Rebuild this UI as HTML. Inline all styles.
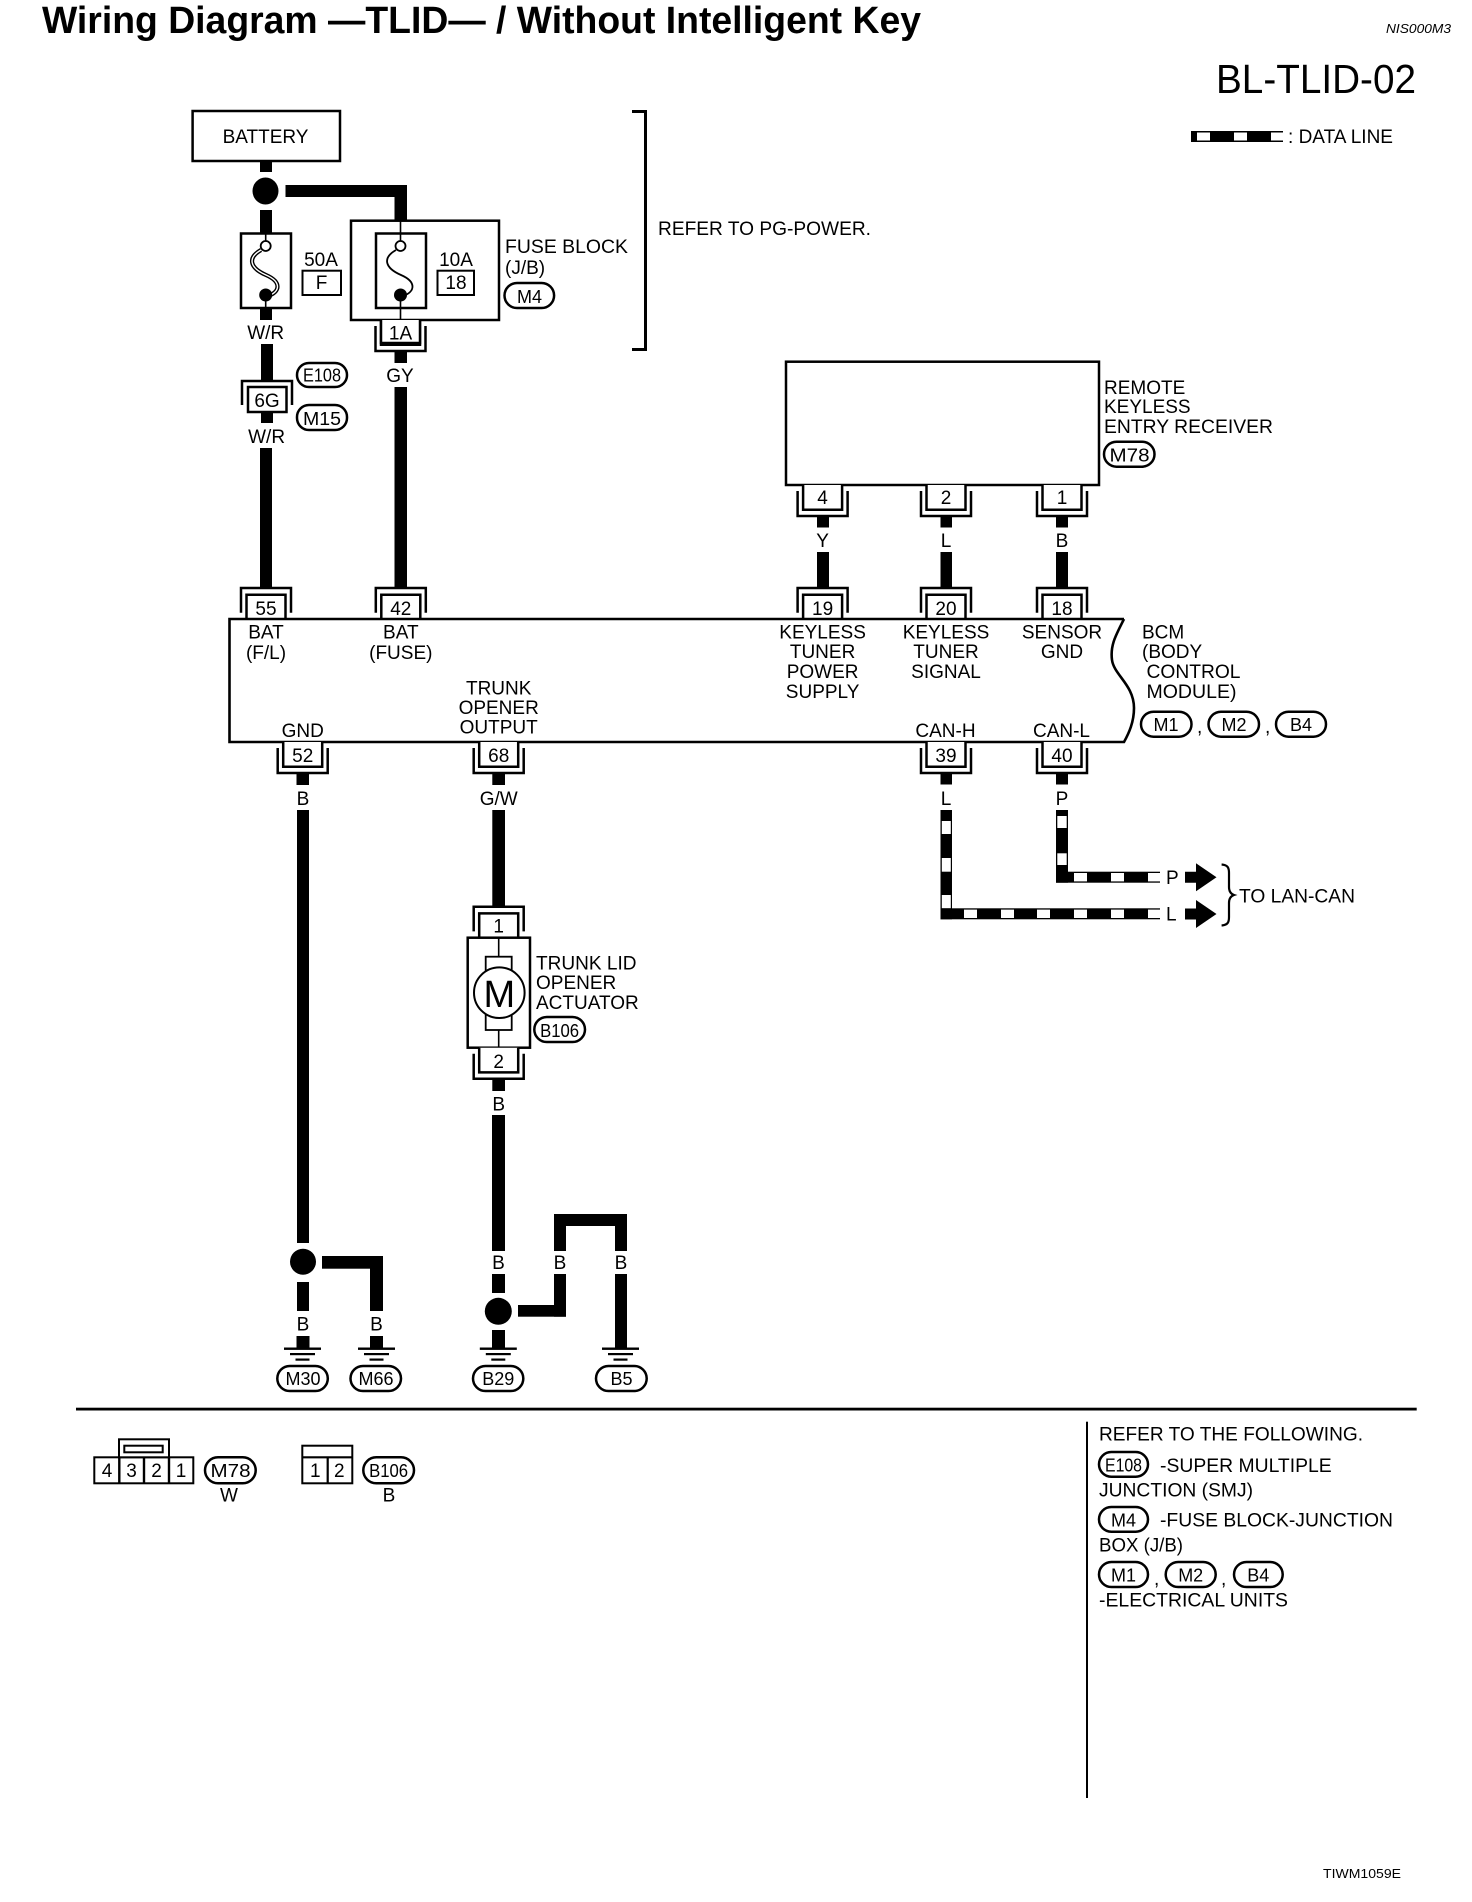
<!DOCTYPE html>
<html>
<head>
<meta charset="utf-8">
<title>Wiring Diagram TLID</title>
<style>
html,body{margin:0;padding:0;background:#fff;width:1472px;height:1902px;overflow:hidden}
svg{display:block}
text{font-family:"Liberation Sans",sans-serif;font-size:19px;fill:#000}
.m{text-anchor:middle}
.p{font-size:18px;text-anchor:middle}
.n{font-size:19px;text-anchor:middle}
.box{fill:#fff;stroke:#000;stroke-width:2.5}
.pill{fill:#fff;stroke:#000;stroke-width:2.5}
.thin{fill:none;stroke:#000;stroke-width:1.6}
.br{fill:none;stroke:#000;stroke-width:2.5}
.gl{fill:#000}
</style>
</head>
<body>
<svg xmlns="http://www.w3.org/2000/svg" width="1472" height="1902" viewBox="0 0 1472 1902">
<defs>
<g id="ct"><path class="br" d="M-25 24.7V0H25V24.7"/><path class="br" d="M-19.5 31V6.7H19.5V31" style="fill:#fff"/></g>
<g id="cb"><path class="br" d="M-19.5 0V24.7H19.5V0" style="fill:#fff"/><path class="br" d="M-25 6V31H25V6"/></g>
<g id="gnd"><rect x="-18.5" y="0" width="37" height="2.4"/><rect x="-12.5" y="5.5" width="25" height="2.2"/><rect x="-7" y="11" width="14" height="2.2"/></g>
</defs>
<rect width="1472" height="1902" fill="#fff"/>

<!-- header -->
<text x="42" y="33" style="font-size:38px;font-weight:bold" textLength="879" lengthAdjust="spacingAndGlyphs">Wiring Diagram —TLID— / Without Intelligent Key</text>
<text x="1386" y="33" style="font-size:12.5px;font-style:italic" textLength="65" lengthAdjust="spacingAndGlyphs">NIS000M3</text>
<text x="1216" y="93" style="font-size:41px" textLength="200" lengthAdjust="spacingAndGlyphs">BL-TLID-02</text>

<!-- legend -->
<rect x="1191" y="131" width="92" height="11"/>
<rect x="1197" y="132.5" width="13" height="8" fill="#fff"/>
<rect x="1234" y="132.5" width="13" height="8" fill="#fff"/>
<rect x="1271" y="132.5" width="12" height="8" fill="#fff"/>
<text x="1288" y="143" textLength="105" lengthAdjust="spacingAndGlyphs">: DATA LINE</text>

<!-- battery -->
<rect class="box" x="192.6" y="111" width="147.4" height="50"/>
<text class="m" x="265.5" y="143">BATTERY</text>
<rect x="260" y="161" width="12" height="11"/>
<ellipse cx="265.5" cy="191" rx="13" ry="13.5"/>
<rect x="260" y="210" width="12" height="24"/>
<rect x="285.5" y="185" width="121.5" height="12"/>
<rect x="394.5" y="185" width="12.5" height="36"/>

<!-- bracket -->
<path d="M632 111.5H645.5V349.5H632" fill="none" stroke="#000" stroke-width="3"/>
<text x="658" y="235" textLength="213" lengthAdjust="spacingAndGlyphs">REFER TO PG-POWER.</text>

<!-- fuse 1 -->
<rect class="box" x="241" y="233.5" width="50" height="74.5"/>
<path class="thin" d="M265.7 233.5V241M265.7 301V308"/>
<path d="M261 250C247 258 250 268 266 275C282 282 280 292 268 296" fill="none" stroke="#000" stroke-width="4.2"/>
<path d="M261 250C247 258 250 268 266 275C282 282 280 292 268 296" fill="none" stroke="#fff" stroke-width="1.4"/>
<circle cx="265.7" cy="246" r="5" fill="#fff" stroke="#000" stroke-width="1.8"/>
<circle cx="265.7" cy="295" r="6.5"/>
<rect x="260" y="308" width="12" height="12"/>
<text class="m" x="265.7" y="339">W/R</text>
<rect x="261" y="344" width="12" height="37"/>

<!-- fuse block -->
<rect class="box" x="351" y="220.7" width="148" height="99.3"/>
<rect class="box" x="376" y="233.5" width="50" height="74.5"/>
<path class="thin" d="M400.5 220.7V241M400.5 301V320"/>
<path d="M396 250C382 258 385 268 401 275C417 282 415 292 403 296" fill="none" stroke="#000" stroke-width="1.8"/>
<circle cx="400.5" cy="246" r="5" fill="#fff" stroke="#000" stroke-width="1.8"/>
<circle cx="400.5" cy="295" r="6.5"/>

<text class="m" x="321" y="266">50A</text>
<rect class="box" x="302.5" y="270.7" width="38.5" height="24.3" style="stroke-width:2"/>
<text class="m" x="321.5" y="289">F</text>
<text class="m" x="456" y="266">10A</text>
<rect class="box" x="437.5" y="270.7" width="36.5" height="24.3" style="stroke-width:2"/>
<text class="m" x="456" y="289">18</text>
<text x="505" y="253" textLength="123" lengthAdjust="spacingAndGlyphs">FUSE BLOCK</text>
<text x="505" y="274">(J/B)</text>
<rect class="pill" x="504.5" y="283" width="49.6" height="25" rx="12.5"/>
<text class="p" x="529.5" y="303">M4</text>

<!-- 1A -->
<use href="#cb" x="400.5" y="320"/>
<path class="br" d="M381 320V343H420V320" style="fill:#fff"/>
<text class="n" x="400.5" y="339.5">1A</text>
<rect x="394.5" y="350" width="12.5" height="13"/>
<text class="m" x="400" y="382">GY</text>
<rect x="394.5" y="387" width="12.5" height="202"/>

<!-- 6G -->
<path class="br" d="M242 405V381H292V405"/>
<rect class="box" x="248" y="387" width="38.5" height="25"/>
<text class="n" x="267" y="407">6G</text>
<rect x="261" y="412" width="12" height="11"/>
<text class="m" x="266.6" y="443">W/R</text>
<rect x="260" y="448" width="12" height="141"/>
<rect class="pill" x="297" y="363" width="50" height="24" rx="12"/>
<text class="p" x="322" y="381.7" textLength="38" lengthAdjust="spacingAndGlyphs">E108</text>
<rect class="pill" x="297" y="405" width="50" height="25" rx="12"/>
<text class="p" x="322" y="425" textLength="38" lengthAdjust="spacingAndGlyphs">M15</text>

<!-- remote keyless -->
<rect class="box" x="786" y="361.7" width="313" height="123.3"/>
<text x="1104" y="394">REMOTE</text>
<text x="1104" y="413">KEYLESS</text>
<text x="1104" y="433" textLength="169" lengthAdjust="spacingAndGlyphs">ENTRY RECEIVER</text>
<rect class="pill" x="1104" y="441.7" width="50.5" height="25" rx="12.5"/>
<text class="p" x="1129.5" y="461.7" textLength="40" lengthAdjust="spacingAndGlyphs">M78</text>

<use href="#cb" x="822.6" y="485"/><text class="n" x="822.6" y="504">4</text>
<use href="#cb" x="946" y="485"/><text class="n" x="946" y="504">2</text>
<use href="#cb" x="1062" y="485"/><text class="n" x="1062" y="504">1</text>
<rect x="817" y="516" width="12" height="11.5"/><text class="m" x="822.6" y="547">Y</text><rect x="817" y="552" width="12" height="37"/>
<rect x="940.5" y="516" width="11.5" height="11.5"/><text class="m" x="946" y="547">L</text><rect x="940.5" y="552" width="11.5" height="37"/>
<rect x="1056" y="516" width="12" height="11.5"/><text class="m" x="1062" y="547">B</text><rect x="1056" y="552" width="12" height="37"/>

<!-- BCM -->
<use href="#ct" x="266" y="588"/>
<use href="#ct" x="400.8" y="588"/>
<use href="#ct" x="822.6" y="588"/>
<use href="#ct" x="946" y="588"/>
<use href="#ct" x="1062" y="588"/>
<path d="M1124 619H229.5V742H1124C1129 733 1134 722 1134 708C1134 685 1114 675 1112 660C1110 645 1116 635 1124 619" fill="#fff" stroke="#000" stroke-width="2.6"/>
<text class="n" x="266" y="615">55</text>
<text class="n" x="400.8" y="615">42</text>
<text class="n" x="822.6" y="615">19</text>
<text class="n" x="946" y="615">20</text>
<text class="n" x="1062" y="615">18</text>

<text class="m" x="266" y="638.7">BAT</text><text class="m" x="266" y="659">(F/L)</text>
<text class="m" x="400.8" y="638.7">BAT</text><text class="m" x="400.8" y="659">(FUSE)</text>
<text class="m" x="498.7" y="694.5">TRUNK</text><text class="m" x="498.7" y="714">OPENER</text><text class="m" x="498.7" y="733.7">OUTPUT</text>
<text class="m" x="302.7" y="737">GND</text>
<text class="m" x="822.6" y="638.5">KEYLESS</text><text class="m" x="822.6" y="658">TUNER</text><text class="m" x="822.6" y="678">POWER</text><text class="m" x="822.6" y="698">SUPPLY</text>
<text class="m" x="946" y="638.5">KEYLESS</text><text class="m" x="946" y="658">TUNER</text><text class="m" x="946" y="678">SIGNAL</text>
<text class="m" x="1062" y="638.5">SENSOR</text><text class="m" x="1062" y="658">GND</text>
<text class="m" x="945.5" y="737">CAN-H</text>
<text class="m" x="1061.5" y="737">CAN-L</text>
<text x="1142" y="638.5">BCM</text><text x="1142" y="658">(BODY</text><text x="1146.5" y="678" textLength="94" lengthAdjust="spacingAndGlyphs">CONTROL</text><text x="1146.5" y="698" textLength="90" lengthAdjust="spacingAndGlyphs">MODULE)</text>
<rect class="pill" x="1141" y="711.7" width="50.5" height="25" rx="12.5"/><text class="p" x="1166" y="731">M1</text>
<text x="1197" y="733">,</text>
<rect class="pill" x="1208.5" y="711.7" width="50.5" height="25" rx="12.5"/><text class="p" x="1234" y="731">M2</text>
<text x="1265" y="733">,</text>
<rect class="pill" x="1276" y="711.7" width="50" height="25" rx="12.5"/><text class="p" x="1301" y="731">B4</text>

<!-- bottom connectors -->
<use href="#cb" x="302.7" y="742"/><text class="n" x="302.7" y="762">52</text>
<use href="#cb" x="498.7" y="742"/><text class="n" x="498.7" y="762">68</text>
<use href="#cb" x="946" y="742"/><text class="n" x="946" y="762">39</text>
<use href="#cb" x="1062" y="742"/><text class="n" x="1062" y="762">40</text>

<rect x="296.5" y="773" width="12.5" height="12"/>
<text class="m" x="303" y="805">B</text>
<rect x="297" y="810" width="12" height="433"/>
<circle cx="303" cy="1261.7" r="13"/>
<rect x="297" y="1282" width="12" height="29"/>
<text class="m" x="303" y="1330.7">B</text>
<rect x="296.5" y="1336" width="13" height="12"/>
<use href="#gnd" x="302.5" y="1347.5"/>
<rect x="322" y="1256" width="61" height="12.7"/>
<rect x="370" y="1256" width="13" height="55"/>
<text class="m" x="376.5" y="1330.7">B</text>
<rect x="370" y="1336" width="13" height="12"/>
<use href="#gnd" x="376.5" y="1347.5"/>
<rect class="pill" x="277.3" y="1366" width="50.5" height="25" rx="12.5"/><text class="p" x="303" y="1385">M30</text>
<rect class="pill" x="350.5" y="1366" width="50.5" height="25" rx="12.5"/><text class="p" x="376" y="1385">M66</text>

<!-- actuator -->
<rect x="492.3" y="773" width="12.7" height="12"/>
<text class="m" x="498.7" y="805">G/W</text>
<rect x="492.3" y="810" width="12.7" height="97"/>
<use href="#ct" x="498.7" y="906.7"/>
<rect class="box" x="467.7" y="937.7" width="62.3" height="110"/>
<text class="n" x="498.7" y="932.7">1</text>
<path class="thin" d="M498.7 937.7V957M498.7 1030V1047.7"/>
<rect x="485.7" y="956.7" width="26" height="73.3" fill="#fff" stroke="#000" stroke-width="1.8"/>
<circle cx="499.3" cy="992.7" r="25.3" fill="#fff" stroke="#000" stroke-width="2"/>
<text class="m" x="499.3" y="1007" style="font-size:38px">M</text>
<text x="536" y="969.3" textLength="100.5" lengthAdjust="spacingAndGlyphs">TRUNK LID</text>
<text x="536" y="989">OPENER</text>
<text x="536" y="1009">ACTUATOR</text>
<rect class="pill" x="534.3" y="1017" width="50.7" height="25" rx="12.5"/>
<text class="p" x="559.6" y="1037" textLength="39" lengthAdjust="spacingAndGlyphs">B106</text>
<use href="#cb" x="498.7" y="1047.7"/>
<text class="n" x="498.7" y="1068">2</text>
<rect x="492.3" y="1079" width="12.7" height="12"/>
<text class="m" x="498.7" y="1110.5">B</text>
<rect x="492" y="1115" width="13" height="136"/>
<text class="m" x="498.5" y="1269">B</text>
<rect x="492" y="1274" width="13" height="19"/>
<circle cx="498.3" cy="1311.3" r="13.5"/>
<rect x="492" y="1330" width="13" height="18"/>
<use href="#gnd" x="498.3" y="1347.5"/>
<rect x="518" y="1305" width="48" height="11.7"/>
<rect x="554" y="1274" width="12" height="42.7"/>
<text class="m" x="560" y="1269">B</text>
<rect x="554" y="1214" width="12" height="37"/>
<rect x="554" y="1214" width="73" height="12"/>
<rect x="615" y="1214" width="12" height="37"/>
<text class="m" x="621" y="1269">B</text>
<rect x="615" y="1274" width="12" height="74"/>
<use href="#gnd" x="620.5" y="1347.5"/>
<rect class="pill" x="473" y="1366" width="50.3" height="25" rx="12.5"/><text class="p" x="498.3" y="1385">B29</text>
<rect class="pill" x="596" y="1366" width="50.7" height="25" rx="12.5"/><text class="p" x="621.5" y="1385">B5</text>

<!-- CAN data lines -->
<rect x="940.5" y="773" width="11.5" height="11.5"/>
<text class="m" x="946" y="805">L</text>
<rect x="1056" y="773" width="12" height="11.5"/>
<text class="m" x="1062" y="805">P</text>

<rect x="940.5" y="810" width="11.5" height="109.3"/>
<rect x="941.8" y="821" width="9" height="13" fill="#fff"/>
<rect x="941.8" y="858" width="9" height="13.7" fill="#fff"/>
<rect x="941.8" y="895" width="9" height="13.3" fill="#fff"/>
<rect x="940.5" y="908.3" width="219.5" height="11"/>
<g fill="#fff">
<rect x="964" y="909.6" width="13" height="8.4"/><rect x="1001" y="909.6" width="13" height="8.4"/><rect x="1037" y="909.6" width="13" height="8.4"/><rect x="1074" y="909.6" width="13" height="8.4"/><rect x="1111" y="909.6" width="13" height="8.4"/><rect x="1148" y="909.6" width="12" height="8.4"/>
</g>
<rect x="1056" y="810" width="12" height="72.7"/>
<rect x="1057.3" y="816" width="9.4" height="12" fill="#fff"/>
<rect x="1057.3" y="853.3" width="9.4" height="11.7" fill="#fff"/>
<rect x="1056" y="871.7" width="104" height="11"/>
<g fill="#fff">
<rect x="1074" y="873" width="13" height="8.4"/><rect x="1111" y="873" width="13" height="8.4"/><rect x="1148" y="873" width="12" height="8.4"/>
</g>
<text x="1166" y="884">P</text>
<text x="1166" y="920.7">L</text>
<path d="M1185 871.8H1196V863.3L1216.5 877.3L1196 891.3V882.8H1185Z"/>
<path d="M1185 908.5H1196V900L1216.5 914L1196 928V919.5H1185Z"/>
<path d="M1221.6 864.5C1228 865 1229 868 1229 873V887C1229 892 1231 894 1234 895C1231 896 1229 898 1229 903V917C1229 922 1228 925 1221.6 925.5" fill="none" stroke="#000" stroke-width="2.2"/>
<text x="1239" y="902.7" textLength="116" lengthAdjust="spacingAndGlyphs">TO LAN-CAN</text>

<!-- separators -->
<rect x="76" y="1407.7" width="1340.7" height="2.8"/>
<rect x="1086" y="1421.7" width="2" height="376.3"/>

<!-- connector views -->
<rect x="94.3" y="1457.3" width="99" height="26" fill="#fff" stroke="#000" stroke-width="2"/>
<path d="M119.3 1457.3V1483.3M144 1457.3V1483.3M169 1457.3V1483.3" stroke="#000" stroke-width="2.4" fill="none"/>
<rect x="119" y="1439.3" width="50" height="18" fill="#fff" stroke="#000" stroke-width="2"/>
<rect x="124.3" y="1445.7" width="38.4" height="6.6" fill="#fff" stroke="#000" stroke-width="2"/>
<text class="n" x="107" y="1477">4</text><text class="n" x="131.5" y="1477">3</text><text class="n" x="156.5" y="1477">2</text><text class="n" x="181" y="1477">1</text>
<rect class="pill" x="205" y="1457.3" width="50.7" height="26" rx="13"/><text class="p" x="230.5" y="1477" textLength="40" lengthAdjust="spacingAndGlyphs">M78</text>
<text class="m" x="229" y="1501.7">W</text>

<rect x="302.3" y="1445.7" width="50" height="37.6" fill="#fff" stroke="#000" stroke-width="2"/>
<path d="M302.3 1457.3H352.3M327.7 1457.3V1483.3" stroke="#000" stroke-width="2.2" fill="none"/>
<text class="n" x="315.3" y="1477">1</text><text class="n" x="339.3" y="1477">2</text>
<rect class="pill" x="363.3" y="1457.3" width="50.7" height="26" rx="13"/>
<text class="p" x="388.6" y="1477" textLength="39" lengthAdjust="spacingAndGlyphs">B106</text>
<text class="m" x="389" y="1501.7">B</text>

<!-- notes -->
<text x="1099" y="1440.7" textLength="264" lengthAdjust="spacingAndGlyphs">REFER TO THE FOLLOWING.</text>
<rect class="pill" x="1099" y="1452" width="49" height="24.7" rx="12.3"/>
<text class="p" x="1123.5" y="1471.5" textLength="37" lengthAdjust="spacingAndGlyphs">E108</text>
<text x="1160" y="1472" textLength="171.7" lengthAdjust="spacingAndGlyphs">-SUPER MULTIPLE</text>
<text x="1099" y="1496.7" textLength="154" lengthAdjust="spacingAndGlyphs">JUNCTION (SMJ)</text>
<rect class="pill" x="1099" y="1507" width="49" height="24.7" rx="12.3"/>
<text class="p" x="1123.5" y="1526.5">M4</text>
<text x="1160" y="1526.7" textLength="233" lengthAdjust="spacingAndGlyphs">-FUSE BLOCK-JUNCTION</text>
<text x="1099" y="1551.7" textLength="84" lengthAdjust="spacingAndGlyphs">BOX (J/B)</text>
<rect class="pill" x="1099" y="1562" width="49" height="25" rx="12.5"/><text class="p" x="1123.5" y="1581.5">M1</text>
<text x="1154" y="1585">,</text>
<rect class="pill" x="1165.7" y="1562" width="50" height="25" rx="12.5"/><text class="p" x="1190.7" y="1581.5">M2</text>
<text x="1221" y="1585">,</text>
<rect class="pill" x="1234" y="1562" width="48.7" height="25" rx="12.5"/><text class="p" x="1258.3" y="1581.5">B4</text>
<text x="1099" y="1606.7" textLength="189" lengthAdjust="spacingAndGlyphs">-ELECTRICAL UNITS</text>

<text x="1323" y="1878" style="font-size:13px" textLength="78" lengthAdjust="spacingAndGlyphs">TIWM1059E</text>
</svg>
</body>
</html>
